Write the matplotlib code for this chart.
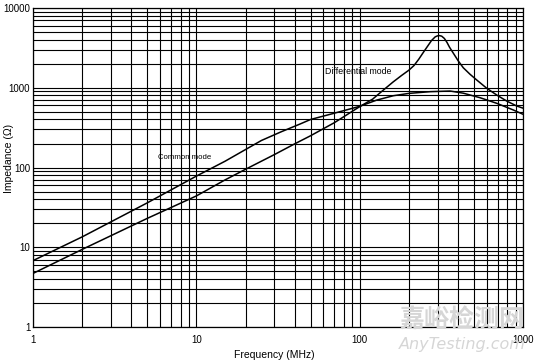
import numpy as np
import matplotlib
matplotlib.use('Agg')
import matplotlib.pyplot as plt
from matplotlib.ticker import LogLocator, NullFormatter, FixedLocator

# 周波数特性 (インピーダンス vs 周波数) の読み取り値
freq_dm = [1, 2, 5, 10, 15, 20, 30, 40, 50, 70, 100, 120, 140, 160, 180, 200, 215, 230, 246,
           260, 275, 290, 300, 308, 318, 330, 342, 355, 375, 402, 431, 474, 521, 600, 691, 796, 916, 1000]
z_dm = [4.7, 9.4, 23, 44, 70, 95, 145, 198, 250, 365, 580, 720, 940, 1180, 1420, 1660, 1900, 2280, 2800,
        3300, 3900, 4350, 4480, 4510, 4430, 4150, 3720, 3220, 2700, 2160, 1780, 1475, 1250, 985, 810, 680, 590, 555]

freq_cm = [1, 2, 5, 10, 15, 20, 25, 33, 43, 50, 70, 100, 127, 161, 200, 270, 358, 431,
           546, 691, 873, 1000]
z_cm = [6.8, 13.5, 36, 78, 120, 168, 218, 280, 350, 400, 480, 585, 700, 795, 850, 893, 910, 855,
        750, 638, 526, 465]

x_ticks = [1, 10, 100, 1000]
x_labels = ['1', '10', '100', '1000']
y_ticks = [1, 10, 100, 1000, 10000]
y_labels = ['1', '10', '100', '1000', '10000']

plt.rcParams['font.family'] = ['Liberation Sans', 'DejaVu Sans']

fig = plt.figure(figsize=(5.43, 3.64), dpi=100)
ax = fig.add_axes([0.0608, 0.1016, 0.9024, 0.8764])

ax.set_xscale('log')
ax.set_yscale('log')
ax.set_xlim(1, 1000)
ax.set_ylim(1, 10000)

ax.xaxis.set_major_locator(FixedLocator(x_ticks))
ax.yaxis.set_major_locator(FixedLocator(y_ticks))
ax.set_xticklabels(x_labels)
ax.set_yticklabels(y_labels)
ax.xaxis.set_minor_locator(LogLocator(base=10, subs=np.arange(2, 10)))
ax.yaxis.set_minor_locator(LogLocator(base=10, subs=np.arange(2, 10)))
ax.xaxis.set_minor_formatter(NullFormatter())
ax.yaxis.set_minor_formatter(NullFormatter())

ax.grid(which='both', color='black', linewidth=0.8)
ax.tick_params(which='both', length=0, labelsize=7)
ax.tick_params(axis='x', pad=6)
ax.tick_params(axis='y', pad=2)
for s in ax.spines.values():
    s.set_color('black')
    s.set_linewidth(0.9)

# 曲線
ax.plot(freq_dm, z_dm, color='black', linewidth=1.1)
ax.plot(freq_cm, z_cm, color='black', linewidth=1.1)

ax.text(61, 1590, 'Differential mode', fontsize=6.3, va='center', ha='left')
ax.text(5.85, 134, 'Common mode', fontsize=5.6, va='center', ha='left')

fig.text(274 / 543, 1 - 355 / 364, 'Frequency (MHz)', fontsize=7.5, ha='center', va='center')
fig.text(9.5 / 543, 1 - 158 / 364, 'Impedance (\u03a9)', fontsize=7.5, ha='center', va='center',
         rotation=90)

# ウォーターマーク
fig.text(462 / 543, 1 - 320 / 364, '嘉峪检测网', fontsize=18, color='#d6d6d6', ha='center',
         va='center', family=['Noto Sans CJK SC'], fontweight='bold')
fig.text(462 / 543, 1 - 345 / 364, 'AnyTesting.com', fontsize=11.5, color='#d6d6d6', ha='center',
         va='center', family=['DejaVu Sans'], style='italic')

fig.savefig('out.png', dpi=100)
